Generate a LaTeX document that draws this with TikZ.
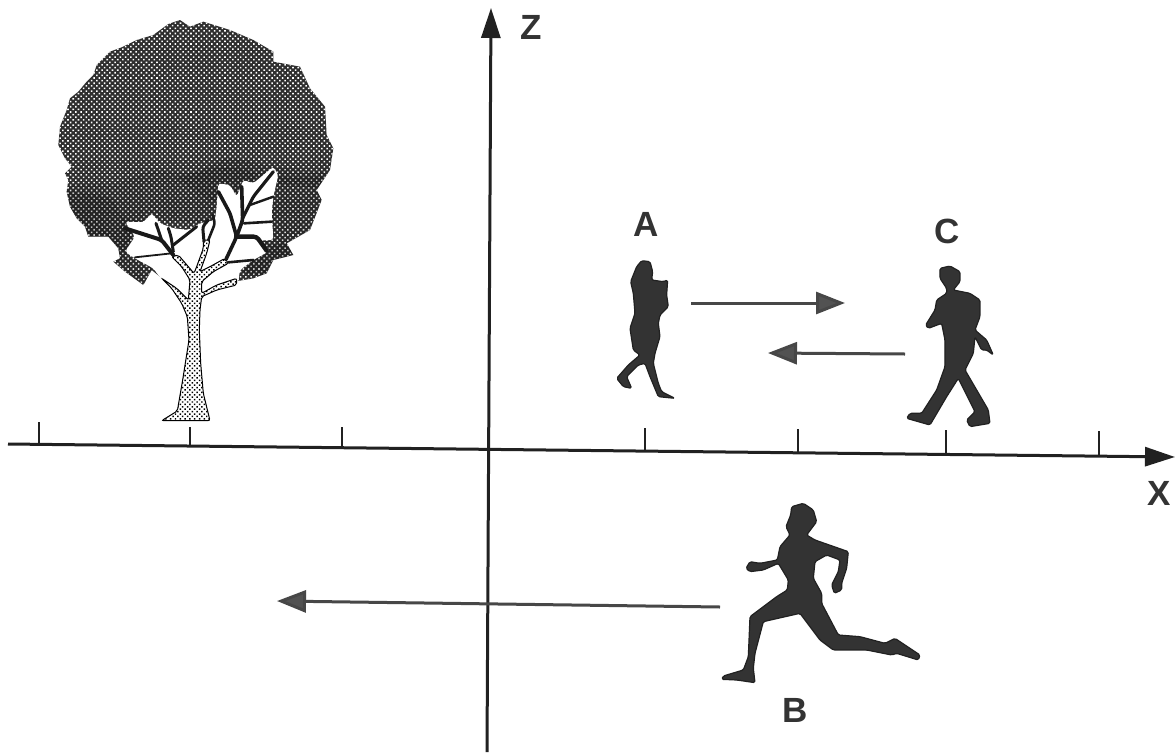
\documentclass[tikz,border=0pt]{standalone}
\usepackage{fontspec}
\setmainfont{Liberation Sans}
\usetikzlibrary{arrows.meta,patterns.meta}
\definecolor{ink}{gray}{0.13}
\definecolor{fig}{gray}{0.2}
\newcommand{\crownpath}{(450,50)--(420,30)--(385,42)--(340,75)--(290,90)--(245,112)--(210,125)--(170,165)--(160,195)--(140,215)--(115,245)--(90,265)--(80,300)--(60,350)--(55,405)--(75,445)--(95,470)--(75,490)--(85,510)--(80,545)--(90,590)--(110,625)--(135,650)--(145,680)--(205,680)--(235,715)--(240,745)--(220,755)--(255,785)--(310,825)--(335,780)--(360,800)--(600,812)--(640,805)--(680,790)--(700,750)--(760,735)--(740,700)--(810,660)--(845,570)--(830,540)--(870,480)--(880,415)--(860,375)--(855,290)--(810,235)--(780,170)--(700,155)--(700,125)--(640,90)--(570,60)--(490,35)--cycle}
\tikzset{
  axisline/.style={draw=ink,line width=3pt,-{Triangle[length=30pt,width=19pt]}},
  motion/.style={draw=fig!90!white,line width=3pt,-{Triangle[length=29pt,width=22pt,fill=fig!85!white]}},
  tick/.style={draw=ink,line width=2.6pt},
  letter/.style={font=\bfseries\fontsize{35}{35}\selectfont,text=fig,inner sep=0pt},
  person/.style={fill=fig,draw=ink,line width=1.2pt,rounded corners=1.5pt,line join=round},
  crown/.style={preaction={fill=black!82},pattern={Dots[radius=1.1pt,distance=3.7pt,angle=45]},pattern color=white},
  shade/.style={fill=black,opacity=0.13,rounded corners=8pt},
  bark/.style={preaction={fill=white},pattern={Dots[radius=1.05pt,distance=3.4pt,angle=45]},pattern color=black},
  limb/.style={draw=black!90,line cap=round,line join=round,rounded corners=3pt},
}
\begin{document}
\begin{tikzpicture}[x=1pt,y=-1pt]
\useasboundingbox (0,0) rectangle (1176,753);
\fill[white] (0,0) rectangle (1176,753);
% tree
\begin{scope}[x=0.33333pt,y=-0.33333pt,shift={(120,30)}]
\path[crown] \crownpath;
\begin{scope}
\clip \crownpath;
\fill[shade] (85,520)--(240,520)--(330,480)--(470,490)--(560,440)--(700,470)--(880,490)--(880,740)--(700,800)--(600,790)--(600,700)--(510,640)--(340,630)--(280,640)--(250,760)--(60,700)--cycle;
\fill[shade] (60,540)--(220,560)--(240,620)--(330,640)--(250,730)--(60,700)--cycle;
\fill[shade] (400,500)--(560,470)--(700,500)--(880,500)--(880,540)--(700,520)--(520,580)--cycle;
\fill[shade] (230,730)--(340,770)--(340,830)--(230,830)--cycle;
\fill[shade] (600,790)--(700,700)--(770,700)--(700,800)--cycle;
\end{scope}
\fill[white,rounded corners=3pt] (255,725)--(285,680)--(255,635)--(310,637)--(335,610)--(360,640)--(400,655)--(445,660)--(480,640)--(525,630)--(530,590)--(535,520)--(570,525)--(590,560)--(610,510)--(640,520)--(700,470)--(715,495)--(700,560)--(695,610)--(700,690)--(660,692)--(690,722)--(640,750)--(600,780)--(595,815)--(520,835)--(480,860)--(445,880)--(400,835)--(360,802)--(340,775)--(285,745)--cycle;
\draw[black,line width=1pt,bark,rounded corners=2pt] (365,1232)--(412,1203)--(428,1110)--(447,990)--(442,920)--(425,880)--(395,835)--(365,805)--(410,835)--(445,870)--(450,810)--(425,770)--(395,740)--(415,735)--(445,770)--(462,790)--(470,770)--(490,715)--(490,690)--(510,690)--(500,730)--(480,785)--(510,770)--(555,745)--(565,760)--(520,785)--(485,815)--(485,850)--(530,825)--(590,805)--(590,825)--(530,840)--(485,860)--(480,900)--(478,960)--(482,1060)--(490,1150)--(510,1232)--cycle;
\draw[limb,line width=1.8pt] (285,742)--(395,730);
\draw[limb,line width=4pt] (400,735)--(365,690)--(255,655);
\draw[limb,line width=3pt] (365,690)--(348,640);
\draw[limb,line width=3pt] (400,725)--(393,680)--(385,655);
\draw[limb,line width=3pt] (400,705)--(470,650);
\draw[limb,line width=3pt] (492,695)--(488,650)--(505,630);
\draw[limb,line width=2.6pt] (505,690)--(525,640)--(518,615);
\draw[limb,line width=3.6pt] (558,748)--(590,680)--(570,610)--(535,545);
\draw[limb,line width=3.6pt] (590,680)--(608,630)--(605,530);
\draw[limb,line width=3.2pt] (608,625)--(640,560)--(700,485);
\draw[limb,line width=2.4pt] (630,585)--(700,560);
\draw[limb,line width=2.6pt] (612,640)--(695,635);
\draw[limb,line width=4.4pt] (590,680)--(650,680)--(680,722);
\draw[limb,line width=2.6pt] (565,757)--(640,750);
\end{scope}
% axes
\coordinate (xs) at (8,444);  \coordinate (xe) at (1175,457);
\coordinate (zs) at (487,752);\coordinate (ze) at (491,8);
\draw[axisline] (xs)--(xe);
\draw[axisline] (zs)--(ze);
\foreach \px/\pa/\pb in {39/422/445,190/427/446,342/427/448,645/428/451,798/429/452,946/430/454,1099/431/456}
  \draw[tick] (\px,\pa)--(\px,\pb);
\node[letter] (lz) at (531,27) {Z};
\node[letter] (lx) at (1159,493) {X};
\node[letter] (la) at (646,224) {A};
\node[letter] (lc) at (947,231) {C};
\node[letter] (lb) at (795,710) {B};
% person A
\begin{scope}[x=0.33333pt,y=-0.33333pt,shift={(1800,600)}]
\path[person] (125,182)--(150,185)--(158,215)--(155,240)--(190,245)--(203,240)--(200,285)--(205,320)--(180,345)--(175,370)--(180,410)--(165,460)--(160,490)--(175,550)--(185,575)--(225,595)--(175,590)--(150,530)--(135,490)--(115,495)--(80,530)--(95,565)--(70,560)--(50,535)--(85,495)--(120,465)--(100,450)--(90,385)--(105,340)--(100,280)--(92,245)--(110,200)--cycle;
% person C
\path[person] (1020,205)--(1050,198)--(1080,215)--(1080,245)--(1060,270)--(1110,280)--(1140,300)--(1140,350)--(1125,390)--(1160,420)--(1180,465)--(1160,450)--(1145,450)--(1125,410)--(1120,460)--(1095,510)--(1130,570)--(1165,630)--(1170,670)--(1110,680)--(1100,660)--(1125,635)--(1075,535)--(1040,590)--(990,675)--(920,655)--(930,640)--(965,640)--(1010,570)--(1035,500)--(1035,420)--(1025,370)--(985,385)--(977,375)--(1005,330)--(1010,300)--(1040,280)--(1040,265)--(1020,235)--cycle;
\end{scope}
% runner B
\begin{scope}[x=0.33333pt,y=-0.33333pt,shift={(2100,1470)}]
\path[person] (275,50)--(310,40)--(340,60)--(350,95)--(320,135)--(345,150)--(445,185)--(440,235)--(425,280)--(425,300)--(403,310)--(395,285)--(415,245)--(420,210)--(380,195)--(345,215)--(340,265)--(365,310)--(365,340)--(415,435)--(480,440)--(555,460)--(585,445)--(660,495)--(655,510)--(590,490)--(575,495)--(500,480)--(400,480)--(360,450)--(300,370)--(190,395)--(165,490)--(160,535)--(165,578)--(110,570)--(65,568)--(70,558)--(130,540)--(145,500)--(150,380)--(230,320)--(262,300)--(265,270)--(235,220)--(190,240)--(150,245)--(138,235)--(150,215)--(180,220)--(232,210)--(240,170)--(270,135)--(258,110)--(272,75)--cycle;
\end{scope}
% motion arrows
\coordinate (m1s) at (691,303); \coordinate (m1e) at (845,303);
\coordinate (m2s) at (905,354); \coordinate (m2e) at (768,353);
\coordinate (m3s) at (720,607); \coordinate (m3e) at (277,601);
\draw[motion] (m1s)--(m1e);
\draw[motion] (m2s)--(m2e);
\draw[motion] (m3s)--(m3e);
\end{tikzpicture}
\end{document}
